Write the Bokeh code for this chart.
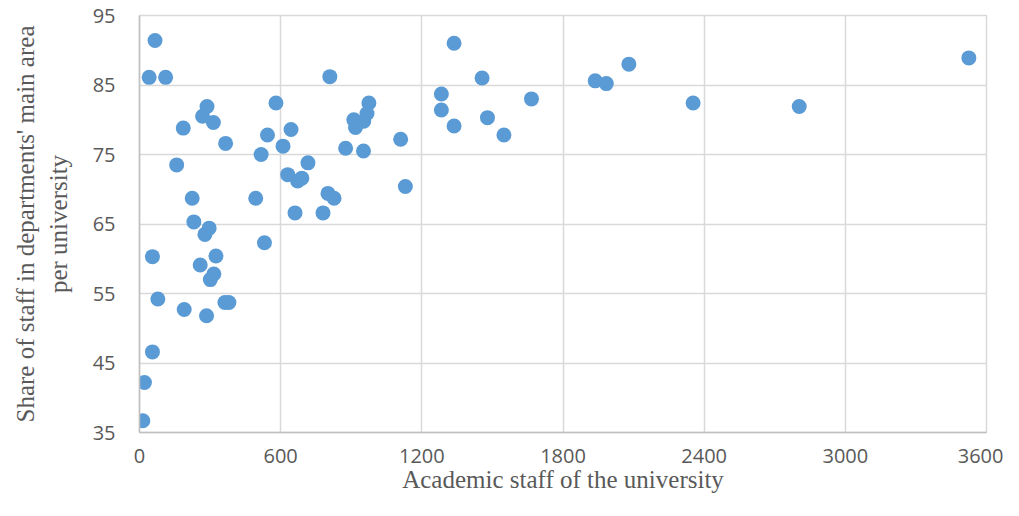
from bokeh.plotting import figure
from bokeh.models import ColumnDataSource, FixedTicker, Range1d
from bokeh.embed import file_html
from bokeh.resources import INLINE

# Academic staff of the university
staff = [66, 41, 111, 809, 287, 268, 314, 186, 366, 580, 544, 644, 610, 517, 158,
         716, 630, 672, 690, 801, 827, 224, 494, 661, 780, 876, 952, 911, 918, 953,
         967, 975, 1110, 1130, 231, 278, 296, 531, 55, 325, 258, 316, 301, 78, 363,
         380, 190, 285, 55, 21, 14, 1337, 1456, 1283, 1283, 1337, 1479, 1549, 1666,
         1937, 1984, 2080, 2353, 2804, 3525]
# Share of staff in departments' main area per university
share = [91.4, 86.1, 86.1, 86.2, 81.9, 80.5, 79.6, 78.8, 76.6, 82.4, 77.8, 78.6, 76.2, 75.0, 73.5,
         73.8, 72.1, 71.2, 71.6, 69.4, 68.7, 68.7, 68.7, 66.6, 66.6, 75.9, 75.5, 80.0, 78.9, 79.8,
         80.9, 82.4, 77.2, 70.4, 65.3, 63.5, 64.4, 62.3, 60.3, 60.4, 59.1, 57.8, 57.0, 54.2, 53.7,
         53.7, 52.7, 51.8, 46.6, 42.2, 36.7, 91.0, 86.0, 83.7, 81.4, 79.1, 80.3, 77.8, 83.0,
         85.6, 85.2, 88.0, 82.4, 81.9, 88.9]

x_ticks = [0, 600, 1200, 1800, 2400, 3000, 3600]
y_ticks = [35, 45, 55, 65, 75, 85, 95]

src = ColumnDataSource(data=dict(x=staff, y=share))

p = figure(width=1003, height=500, output_backend="svg", toolbar_location=None,
           x_range=Range1d(0, 3600), y_range=Range1d(35, 95),
           min_border_left=139, min_border_right=17, min_border_top=15, min_border_bottom=68)

p.scatter("x", "y", source=src, size=15, fill_color="#5B9BD5", line_color=None)

p.xaxis.ticker = FixedTicker(ticks=x_ticks)
p.yaxis.ticker = FixedTicker(ticks=y_ticks)

for ax in (p.xaxis[0], p.yaxis[0]):
    ax.major_tick_out = 0
    ax.major_tick_in = 0
    ax.minor_tick_out = 0
    ax.minor_tick_in = 0
    ax.axis_line_color = "#BFBFBF"
    ax.axis_line_width = 1.5
    ax.major_label_text_font = "Open Sans"
    ax.major_label_text_font_size = "20px"
    ax.major_label_text_color = "#595959"
    ax.axis_label_text_font = "Liberation Serif"
    ax.axis_label_text_font_size = "25px"
    ax.axis_label_text_font_style = "normal"
    ax.axis_label_text_color = "#595959"

p.xaxis.axis_label = "Academic staff of the university"
p.yaxis.axis_label = "Share of staff in departments' main area\nper university"
p.xaxis.major_label_standoff = 16
p.yaxis.major_label_standoff = 24
p.xaxis.axis_label_standoff = 0
p.yaxis.axis_label_standoff = 18

p.xgrid.grid_line_color = "#D9D9D9"
p.ygrid.grid_line_color = "#D9D9D9"
p.xgrid.grid_line_width = 1.5
p.ygrid.grid_line_width = 1.5
p.outline_line_color = "#D9D9D9"
p.outline_line_width = 1.5
p.background_fill_color = "white"
p.border_fill_color = "white"

open("out.html", "w").write(file_html(p, INLINE))
